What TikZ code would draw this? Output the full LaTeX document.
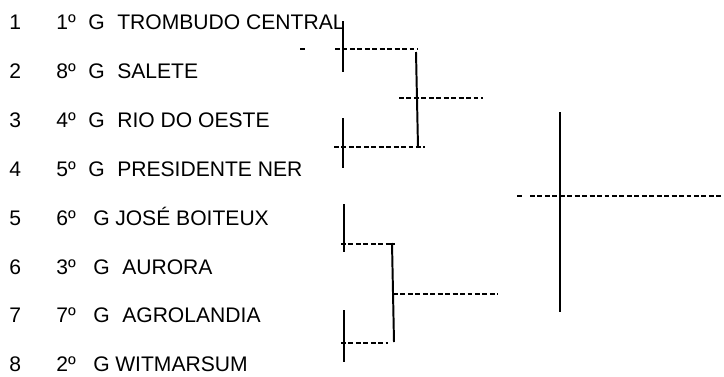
\documentclass[tikz,border=0pt]{standalone}
\usepackage{fontspec}
\setmainfont{Liberation Sans}
\usetikzlibrary{positioning}
\begin{document}
\begin{tikzpicture}[x=0.025cm, y=-0.025cm,
        lbl/.style={anchor=base west, inner sep=0pt, font=\fontsize{15}{17}\selectfont},
        bar/.style={line width=1.4pt},
        gap/.style={line width=1.1pt, dash pattern=on 3.5pt off 1.8pt}
    ]
        \useasboundingbox (0,0) rectangle (724,376);

        % equipes
        \foreach \i/\s/\g/\t/\tx in {1/1/88/TROMBUDO CENTRAL/117, 2/8/88/SALETE/117,
            3/4/88/RIO DO OESTE/117, 4/5/88/PRESIDENTE NER/117, 5/6/93/JOSÉ BOITEUX/115,
            6/3/93/AURORA/122, 7/7/93/AGROLANDIA/122, 8/2/93/WITMARSUM/115}{
            \pgfmathsetmacro{\yb}{29.5+48.9*(\i-1)}
            \node[lbl] (num\i) at (9,\yb) {\i};
            \node[lbl] (seed\i) at (56,\yb) {\s{}º};
            \node[lbl] (grp\i) at (\g,\yb) {G};
            \node[lbl] (team\i) at (\tx,\yb) {\t};
        }

        % primeira fase
        \draw[bar] (343,21) -- (343,72);
        \draw[gap] (300,49) -- (305,49);
        \draw[gap] (335,49) -- (418,49);
        \draw[bar] (343,118) -- (343,168);
        \draw[gap] (334,147) -- (425,147);
        \draw[bar] (344,204) -- (344,252);
        \draw[gap] (341,244) -- (395,244);
        \draw[bar] (344,310) -- (344,362);
        \draw[gap] (341,343) -- (388,343);

        % semifinais
        \draw[bar] (416,52) -- (418,147);
        \draw[gap] (399,98) -- (483,98);
        \draw[bar] (392,243) -- (394,342);
        \draw[gap] (393,294) -- (498,294);

        % final
        \draw[bar] (560,112) -- (560,312);
        \draw[gap] (517,196) -- (523,196);
        \draw[gap] (530,196) -- (724,196);
    \end{tikzpicture}
\end{document}
